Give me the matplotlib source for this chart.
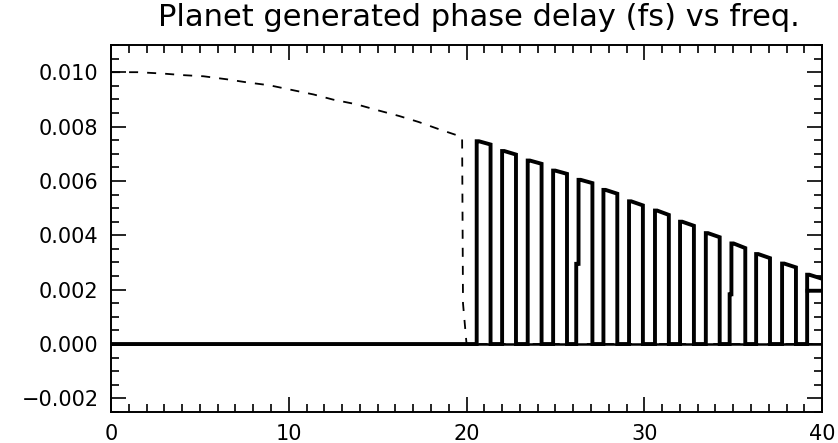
import matplotlib.pyplot as plt
from matplotlib.ticker import MultipleLocator, FuncFormatter

# theoretical delay curve (dashed), freq < 20
freq_model = [0.0, 0.5, 1.5, 2.9, 4.1, 5.2, 6.5, 7.7, 8.9, 10.0, 11.4, 12.5,
              13.8, 15.0, 16.2, 17.3, 18.5, 19.6, 19.75, 19.8, 20.0, 40.0]
delay_model = [0.01000, 0.01000, 0.01000, 0.00995, 0.00989, 0.00985, 0.00974,
               0.00962, 0.00952, 0.00937, 0.00918, 0.00899, 0.00882, 0.00860,
               0.00839, 0.00817, 0.00789, 0.00765, 0.00760, 0.00150, 0.0, 0.0]

# measured delay, one pulse per channel above freq 20
bar_left = [20.57, 22.00, 23.44, 24.87, 26.30, 27.70, 29.14, 30.60, 32.01,
            33.46, 34.90, 36.29, 37.75, 39.16]
bar_right = [21.35, 22.78, 24.22, 25.65, 27.08, 28.48, 29.92, 31.38,
             32.79, 34.24, 35.68, 37.07, 38.53, 40.3]
top_left = [0.00746, 0.00710, 0.00675, 0.00638, 0.00604, 0.00567, 0.00525,
            0.00491, 0.00450, 0.00408, 0.00370, 0.00331, 0.00296, 0.00255]
top_right = [0.00734, 0.00697, 0.00663, 0.00626, 0.00592, 0.00553, 0.00510,
             0.00475, 0.00435, 0.00393, 0.00353, 0.00316, 0.00282, 0.00234]
# small jogs on the rising edge of some pulses: (pulse, height, x shift)
edge_jog = {4: (0.00295, -0.13), 10: (0.00183, -0.10)}

fx, fy = [0.0], [0.0]
for i in range(len(bar_left)):
    xl, xr = bar_left[i], bar_right[i]
    if i in edge_jog:
        h, dx = edge_jog[i]
        fx += [xl + dx, xl + dx, xl]
        fy += [0.0, h, h]
    else:
        fx.append(xl)
        fy.append(0.0)
    fx += [xl, xl + 0.12, xr]
    fy += [top_left[i], top_left[i], top_right[i]]
    if i < len(bar_left) - 1:
        fx.append(xr)
        fy.append(0.0)
# the last pulse runs past the edge of the plot and comes back
fx += [40.3, 39.2]
fy += [0.00196, 0.00196]

fig = plt.figure(figsize=(8.38, 4.43), dpi=100)
ax = fig.add_axes([0.1325, 0.070, 0.8485, 0.8284])

ax.plot(freq_model, delay_model, color='black', linestyle=(0, (5, 5)), linewidth=1.3)
ax.plot(fx, fy, color='black', linewidth=2.8, solid_joinstyle='miter')
ax.axhline(0.0, color='black', linewidth=1.8)

ax.set_xlim(0, 40)
ax.set_ylim(-0.0025, 0.011)
ax.xaxis.set_major_locator(MultipleLocator(10))
ax.xaxis.set_minor_locator(MultipleLocator(1))
ax.yaxis.set_major_locator(MultipleLocator(0.002))
ax.yaxis.set_minor_locator(MultipleLocator(0.0005))
ax.yaxis.set_major_formatter(FuncFormatter(lambda v, p: f'{v:.3f}'.replace('-', '\u2212')))
ax.xaxis.set_major_formatter(FuncFormatter(lambda v, p: f'{v:.0f}'))

ax.tick_params(which='both', direction='in', top=True, right=True,
               labelsize=15, width=1.2, pad=9)
ax.tick_params(which='major', length=11)
ax.tick_params(which='minor', length=6)
for s in ax.spines.values():
    s.set_linewidth(1.4)

ax.set_title('Planet generated phase delay (fs) vs freq.', fontsize=22,
             pad=14, x=0.517)

fig.savefig('out.png', dpi=100)
